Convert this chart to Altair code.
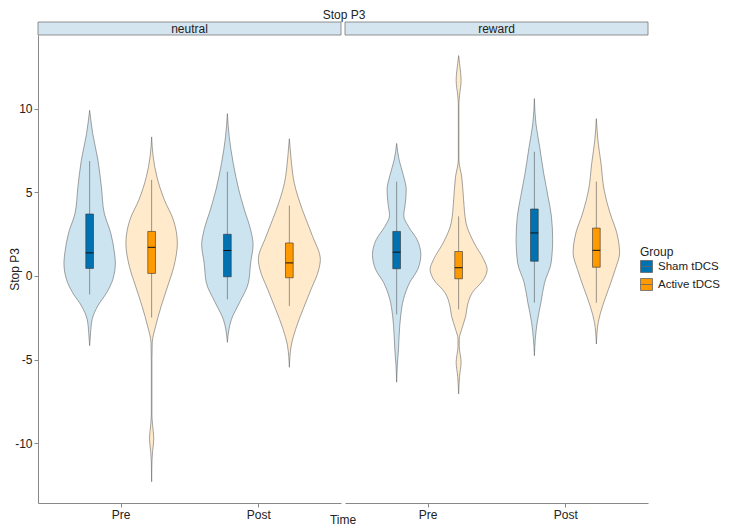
import altair as alt
import pandas as pd

conditions = ["neutral", "reward"]
times = ["Pre", "Post"]
groups = ["Sham tDCS", "Active tDCS"]

# Violin outlines: Stop P3 value and relative half-width (1 = widest violin)
neu_pre_sham_v = [9.9, 8.5, 6.9, 5.3, 3.76, 2.57, 1.38, 0.78, -0.2, -1.0, -1.8, -2.6, -3.4, -4.17]
neu_pre_sham_w = [0, .10, .27, .38, .47, .68, .80, .83, .75, .55, .26, .08, .03, 0]
neu_pre_act_v = [8.31, 7.12, 5.93, 4.55, 3.36, 1.97, 0.58, -0.6, -1.8, -3.0, -3.97, -5.0, -7.0, -8.3, -8.9, -9.72, -10.5, -11.1, -12.3]
neu_pre_act_w = [0, .05, .17, .41, .70, .83, .72, .52, .31, .13, .02, .01, .01, .01, .03, .07, .03, .01, 0]
neu_post_sham_v = [9.70, 8.31, 6.73, 5.14, 3.95, 2.76, 1.87, 0.78, -0.4, -1.6, -2.6, -3.2, -3.97]
neu_post_sham_w = [0, .06, .19, .37, .55, .75, .83, .75, .68, .39, .13, .05, 0]
neu_post_act_v = [8.2, 7.1, 5.54, 3.95, 2.37, 0.98, 0.39, -0.8, -2.0, -3.2, -4.17, -5.46]
neu_post_act_w = [0, .05, .16, .42, .75, 1.0, .95, .70, .44, .20, .06, 0]
rew_pre_sham_v = [7.92, 6.93, 6.0, 5.14, 4.35, 3.6, 2.96, 2.17, 1.28, 0.39, -0.4, -1.4, -2.39, -3.58, -4.37, -5.36, -6.35]
rew_pre_sham_w = [0, .08, .22, .31, .28, .23, .38, .66, .78, .68, .42, .22, .13, .08, .06, .02, 0]
rew_pre_act_v = [13.17, 12.7, 11.68, 10.8, 10.3, 8.5, 6.93, 5.93, 4.55, 3.16, 1.97, 0.98, 0.39, -0.2, -1.0, -1.8, -2.39, -3.18, -3.78, -4.2, -5.16, -6.0, -7.05]
rew_pre_act_w = [0, .03, .08, .03, .01, .01, .01, .10, .16, .24, .50, .81, .92, .81, .44, .28, .23, .10, .02, .02, .08, .03, 0]
rew_post_sham_v = [10.6, 9.1, 7.72, 6.14, 4.75, 3.56, 2.17, 0.78, -0.4, -1.6, -2.78, -3.78, -4.77]
rew_post_sham_w = [0, .05, .17, .30, .44, .55, .59, .54, .33, .21, .09, .03, 0]
rew_post_act_v = [9.4, 8.11, 6.73, 5.14, 3.76, 2.57, 1.38, 0.39, -0.8, -1.8, -2.78, -3.4, -4.07]
rew_post_act_w = [0, .05, .15, .25, .44, .66, .75, .61, .39, .20, .06, .02, 0]

# Box statistics, order: neutral Pre Sham, neutral Pre Active, neutral Post Sham, neutral Post Active,
#                        reward Pre Sham, reward Pre Active, reward Post Sham, reward Post Active
box_lo = [-1.1, -2.49, -1.40, -1.8, -2.3, -2.0, -1.6, -1.6]
box_q1 = [0.45, 0.15, -0.05, -0.11, 0.43, -0.17, 0.88, 0.52]
box_med = [1.38, 1.71, 1.52, 0.78, 1.42, 0.49, 2.57, 1.53]
box_q3 = [3.70, 2.66, 2.49, 1.97, 2.66, 1.46, 4.0, 2.86]
box_hi = [6.87, 5.74, 6.23, 4.21, 5.64, 3.56, 7.42, 5.64]

# ---- styling / layout constants ----
FONT = "Liberation Sans"
BOX_COLORS = ["#0072B2", "#FF9900"]
VIOLIN_FILL = {"Sham tDCS": "#cce3f0", "Active tDCS": "#ffebcc"}
TIME_POS = {"Pre": 1, "Post": 2}
DODGE = {"Sham tDCS": -0.225, "Active tDCS": 0.225}
MAX_HALF = 0.225
BOX_HALF = 0.028
PW, PH = 303, 468
STRIP_H = 13

violin_lists = [
    ("neutral", "Pre", "Sham tDCS", neu_pre_sham_v, neu_pre_sham_w),
    ("neutral", "Pre", "Active tDCS", neu_pre_act_v, neu_pre_act_w),
    ("neutral", "Post", "Sham tDCS", neu_post_sham_v, neu_post_sham_w),
    ("neutral", "Post", "Active tDCS", neu_post_act_v, neu_post_act_w),
    ("reward", "Pre", "Sham tDCS", rew_pre_sham_v, rew_pre_sham_w),
    ("reward", "Pre", "Active tDCS", rew_pre_act_v, rew_pre_act_w),
    ("reward", "Post", "Sham tDCS", rew_post_sham_v, rew_post_sham_w),
    ("reward", "Post", "Active tDCS", rew_post_act_v, rew_post_act_w),
]

rows = []
for k, (c, t, g, vs, ws) in enumerate(violin_lists):
    center = TIME_POS[t] + DODGE[g]
    for v, w in sorted(zip(vs, ws)):
        rows.append({"kind": "violin", "cond": c, "vid": k, "group": g, "v": v,
                     "xl": center - w * MAX_HALF, "xr": center + w * MAX_HALF,
                     "vfill": VIOLIN_FILL[g]})
i = 0
for c in conditions:
    for t in times:
        for g in groups:
            center = TIME_POS[t] + DODGE[g]
            rows.append({"kind": "box", "cond": c, "group": g, "center": center,
                         "bl": center - BOX_HALF, "br": center + BOX_HALF,
                         "lo": box_lo[i], "q1": box_q1[i], "med": box_med[i],
                         "q3": box_q3[i], "hi": box_hi[i]})
            i += 1
for c in conditions:
    rows.append({"kind": "strip", "cond": c})
df = pd.DataFrame(rows)

yscale = alt.Scale(domain=[-13.57, 14.4], nice=False, zero=False)
xscale = alt.Scale(domain=[0.4, 2.6], nice=False, zero=False)

xa = alt.Axis(title=None, values=[1, 2], labelExpr="datum.value == 1 ? 'Pre' : 'Post'",
              grid=False, tickSize=4, labelPadding=2, labelFontSize=12, domainColor="#888",
              tickColor="#888", labelColor="#222")
ya = alt.Axis(title="Stop P3", values=[-10, -5, 0, 5, 10], labelExpr="'' + datum.value",
              grid=False, tickSize=4, labelPadding=2, labelFontSize=12,
              titleFontSize=12, titleFontWeight="normal", titleX=-24, titleY=PH / 2,
              titleBaseline="middle", titleAlign="center",
              domainColor="#888", tickColor="#888", labelColor="#222", titleColor="#222")

violins = alt.Chart().transform_filter(alt.datum.kind == "violin").mark_area(
    orient="horizontal", interpolate="monotone", stroke="#666", strokeWidth=0.6
).encode(
    y=alt.Y("v:Q", scale=yscale, axis=ya),
    x=alt.X("xl:Q", scale=xscale, axis=xa),
    x2="xr:Q",
    fill=alt.Fill("vfill:N", scale=None),
    detail="vid:N",
)
whisk = alt.Chart().transform_filter(alt.datum.kind == "box").mark_rule(
    color="#555", strokeWidth=0.6
).encode(
    x=alt.X("center:Q", scale=xscale, axis=xa),
    y=alt.Y("lo:Q", scale=yscale, axis=ya),
    y2="hi:Q",
)
box = alt.Chart().transform_filter(alt.datum.kind == "box").mark_rect(
    stroke="#333", strokeWidth=0.6
).encode(
    x=alt.X("bl:Q", scale=xscale, axis=xa),
    x2="br:Q",
    y=alt.Y("q1:Q", scale=yscale, axis=ya),
    y2="q3:Q",
    fill=alt.Fill("group:N", scale=alt.Scale(domain=groups, range=BOX_COLORS),
                  legend=alt.Legend(
                      title="Group", orient="none", legendX=602, legendY=212,
                      symbolType="M-1,-1H1V1H-1Z M-1,0H1", symbolSize=144,
                      symbolStrokeColor="#777", symbolStrokeWidth=0.8,
                      titleFontSize=12, titleFontWeight="normal", titleColor="#222",
                      labelFontSize=11.5, labelColor="#222", rowPadding=1, titlePadding=1,
                      labelOffset=5)),
)
med = alt.Chart().transform_filter(alt.datum.kind == "box").mark_rule(
    color="#111", strokeWidth=1
).encode(
    x=alt.X("bl:Q", scale=xscale, axis=xa),
    x2="br:Q",
    y=alt.Y("med:Q", scale=yscale, axis=ya),
)
strip_rect = alt.Chart().transform_filter(alt.datum.kind == "strip").mark_rect(
    fill="#d5e5ef", stroke="#777", strokeWidth=0.8
).encode(x=alt.value(0), x2=alt.value(PW), y=alt.value(-STRIP_H), y2=alt.value(0))
strip_txt = alt.Chart().transform_filter(alt.datum.kind == "strip").mark_text(
    fontSize=12, font=FONT, color="#222", baseline="middle"
).encode(text="cond:N", x=alt.value(PW / 2), y=alt.value(-STRIP_H / 2 + 0.5))
time_title = alt.Chart().transform_filter(
    (alt.datum.kind == "strip") & (alt.datum.cond == conditions[0])
).mark_text(
    fontSize=12, font=FONT, color="#222", baseline="middle", text="Time"
).encode(x=alt.value(PW + 2), y=alt.value(PH + 17))

chart = alt.layer(violins, whisk, box, med, strip_rect, strip_txt, time_title, data=df).properties(
    width=PW, height=PH
).facet(
    column=alt.Column("cond:N", sort=conditions, header=alt.Header(labels=False, title=None)),
    spacing=4, bounds="flush",
).properties(
    title=alt.Title("Stop P3", anchor="middle", frame="bounds", fontSize=12,
                    fontWeight="normal", color="#222", offset=0, dx=-20),
    padding={"left": 0, "top": 0, "right": 0, "bottom": 0},
).configure(font=FONT).configure_view(strokeWidth=0, stroke="transparent")

chart.save("out.html", embed_options={"renderer": "svg", "actions": False})
